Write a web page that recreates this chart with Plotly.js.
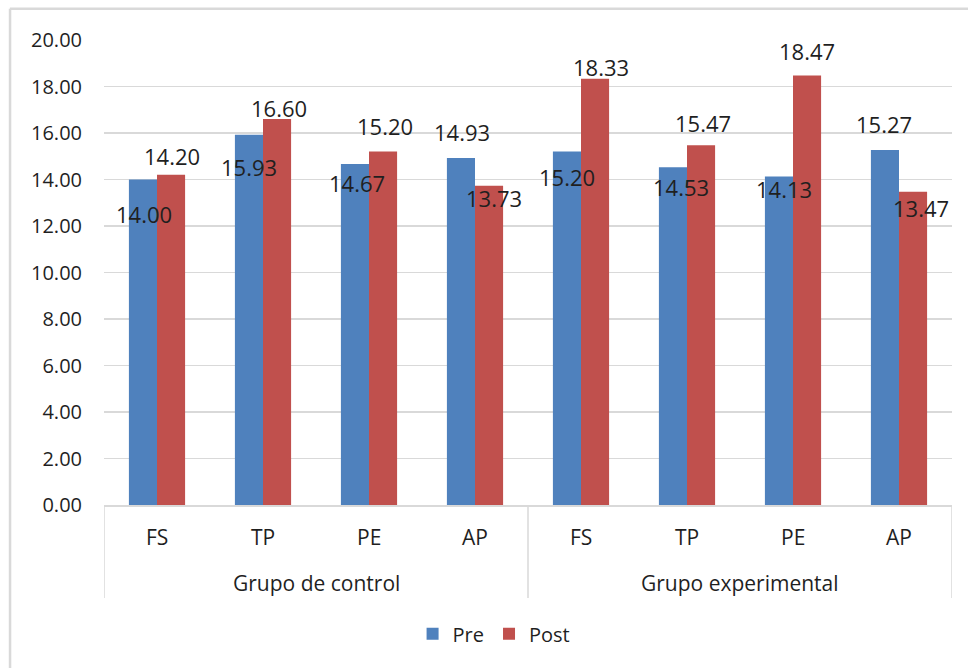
<!DOCTYPE html>
<html>
<head>
<meta charset="utf-8">
<script src="https://cdn.plot.ly/plotly-3.0.1.min.js"></script>
<style>
  html, body { margin: 0; padding: 0; background: #ffffff; }
  #chart { width: 968px; height: 668px; }
</style>
</head>
<body>
<div id="chart"></div>
<script>
// Scores per dimension, before and after, for both groups
const categories = ["FS", "TP", "PE", "AP", "FS", "TP", "PE", "AP"];
const groups = ["Grupo de control", "Grupo experimental"];
const groupSize = 4;
const seriesNames = ["Pre", "Post"];
const preValues = [14.00, 15.93, 14.67, 14.93, 15.20, 14.53, 14.13, 15.27];
const postValues = [14.20, 16.60, 15.20, 13.73, 18.33, 15.47, 18.47, 13.47];
const yTickVals = [0, 2, 4, 6, 8, 10, 12, 14, 16, 18, 20];

// Pixel nudges for the value labels [dx, dy], dy upward
const preLabelShift = [[1, -34], [0, -32], [2, -19], [1, 26], [0, -25], [8, -20], [5, -13], [-1, 26]];
const postLabelShift = [[1, 19], [2, 11], [2, 26], [5, -12], [6, 12], [2, 22], [0, 25], [8, -16]];

const colors = { pre: "#4F81BD", post: "#C0504D", grid: "#D9D9D9", text: "#1f1f1f" };
const FONT = "Open Sans, Noto Sans, DejaVu Sans, sans-serif";
const bargap = 0.47;
const barW = (1 - bargap) / 2;

const xPos = categories.map((_, i) => i);

const traces = [
  { type: "bar", name: seriesNames[0], x: xPos, y: preValues,
    marker: { color: colors.pre }, hoverinfo: "y" },
  { type: "bar", name: seriesNames[1], x: xPos, y: postValues,
    marker: { color: colors.post }, hoverinfo: "y" }
];

const annotations = [];
// value labels
preValues.forEach((v, i) => {
  annotations.push({ x: i - barW / 2, y: v, xref: "x", yref: "y", text: v.toFixed(2),
    showarrow: false, xanchor: "center", yanchor: "middle",
    xshift: preLabelShift[i][0], yshift: preLabelShift[i][1],
    font: { family: FONT, size: 22, color: colors.text } });
});
postValues.forEach((v, i) => {
  annotations.push({ x: i + barW / 2, y: v, xref: "x", yref: "y", text: v.toFixed(2),
    showarrow: false, xanchor: "center", yanchor: "middle",
    xshift: postLabelShift[i][0], yshift: postLabelShift[i][1],
    font: { family: FONT, size: 22, color: colors.text } });
});
// category labels
categories.forEach((c, i) => {
  annotations.push({ x: i, y: 0, xref: "x", yref: "paper", text: c, showarrow: false,
    xanchor: "center", yanchor: "middle", yshift: -32,
    font: { family: FONT, size: 21, color: colors.text } });
});
// group labels
groups.forEach((g, k) => {
  annotations.push({ x: k * groupSize + (groupSize - 1) / 2, y: 0, xref: "x", yref: "paper",
    text: g, showarrow: false, xanchor: "center", yanchor: "middle", yshift: -78,
    font: { family: FONT, size: 21, color: colors.text } });
});

const shapes = [];
// group dividers below the category axis
for (let k = 0; k <= groups.length; k++) {
  const xb = k * groupSize - 0.5;
  shapes.push({ type: "line", xref: "x", yref: "paper", x0: xb, x1: xb, y0: 0, y1: -0.2,
    line: { color: colors.grid, width: 1.5 } });
}
// chart frame (top and left edges)
shapes.push({ type: "line", xref: "paper", yref: "paper", x0: -0.111, x1: 1.1, y0: 1.067, y1: 1.067,
  line: { color: colors.grid, width: 2.5 } });
shapes.push({ type: "line", xref: "paper", yref: "paper", x0: -0.1108, x1: -0.1108, y0: 1.067, y1: -0.5,
  line: { color: colors.grid, width: 2.5 } });

const layout = {
  width: 968, height: 668,
  margin: { l: 104, r: 16, t: 40, b: 163 },
  paper_bgcolor: "#ffffff", plot_bgcolor: "#ffffff",
  barmode: "group", bargap: bargap, bargroupgap: 0,
  font: { family: FONT, size: 20, color: colors.text },
  xaxis: {
    type: "linear", range: [-0.5, categories.length - 0.5],
    showticklabels: false, showgrid: false, zeroline: false, ticks: "",
    showline: true, linecolor: colors.grid, linewidth: 1.5, fixedrange: true
  },
  yaxis: {
    range: [0, 20], tickvals: yTickVals, ticktext: yTickVals.map(v => v.toFixed(2)),
    showgrid: true, gridcolor: colors.grid, gridwidth: 1.5, zeroline: false,
    showline: false, ticks: "", ticklabelstandoff: 21,
    tickfont: { family: FONT, size: 20, color: colors.text }, fixedrange: true
  },
  showlegend: true,
  legend: {
    orientation: "h", x: 0.46, xanchor: "center", y: -0.277, yanchor: "middle",
    font: { family: FONT, size: 20, color: colors.text }, itemwidth: 30,
    bgcolor: "rgba(0,0,0,0)"
  },
  annotations: annotations,
  shapes: shapes
};

Plotly.newPlot("chart", traces, layout, { displayModeBar: false, staticPlot: true });
</script>
</body>
</html>
